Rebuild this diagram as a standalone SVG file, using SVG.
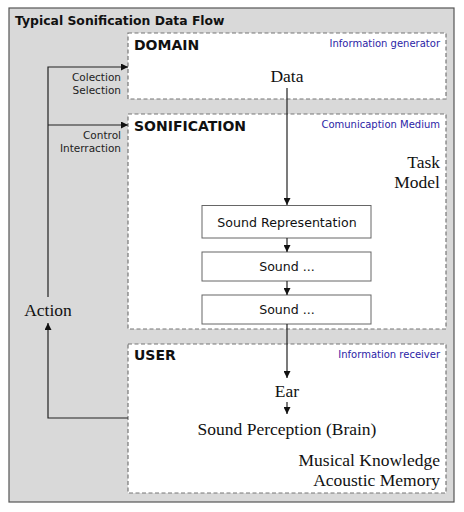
<svg xmlns="http://www.w3.org/2000/svg" width="464" height="512" viewBox="0 0 464 512">
<style>
.sans{font-family:"DejaVu Sans","Liberation Sans",sans-serif}
.serif{font-family:"Liberation Serif","DejaVu Serif",serif;fill:#111;font-size:17.5px}
.zone{fill:#fff;stroke:#777;stroke-width:1.2;stroke-dasharray:4,2.5}
.box{fill:#fff;stroke:#666;stroke-width:1}
.btxt{font-family:"DejaVu Sans","Liberation Sans",sans-serif;font-size:12.6px;fill:#111;text-anchor:middle}
.ztitle{font-family:"DejaVu Sans","Liberation Sans",sans-serif;font-weight:bold;font-size:14px;fill:#111}
.zrole{font-family:"DejaVu Sans","Liberation Sans",sans-serif;font-size:10px;fill:#2b24a6;text-anchor:end}
.lbl{font-family:"DejaVu Sans","Liberation Sans",sans-serif;font-size:10.5px;fill:#222;text-anchor:end}
.con{fill:none;stroke:#222;stroke-width:1.2}
</style>
<defs>
<marker id="ah" viewBox="0 0 10 10" refX="10" refY="5" markerWidth="7" markerHeight="7" orient="auto" markerUnits="userSpaceOnUse">
<path d="M0,0 L10,5 L0,10 Z" fill="#111"/>
</marker>
</defs>
<rect x="9" y="8" width="445" height="494" fill="#d9d9d9" stroke="#555" stroke-width="1.2"/>
<text x="15" y="25" class="sans" font-weight="bold" font-size="12.4" fill="#111">Typical Sonification Data Flow</text>

<g id="domain">
<rect x="128" y="33" width="318" height="66" class="zone"/>
<text x="134" y="50" class="ztitle">DOMAIN</text>
<text x="440" y="47" class="zrole">Information generator</text>
<text x="287" y="82" class="serif" text-anchor="middle">Data</text>
</g>

<g id="sonification">
<rect x="128" y="114" width="318" height="215" class="zone"/>
<text x="134" y="131" class="ztitle">SONIFICATION</text>
<text x="440" y="128" class="zrole">Comunicaption Medium</text>
<text x="440" y="168" class="serif" text-anchor="end">Task</text>
<text x="440" y="188" class="serif" text-anchor="end">Model</text>
</g>

<g id="sound-representation">
<rect x="202" y="205.5" width="169" height="32.5" class="box"/>
<text x="287" y="226.5" class="btxt">Sound Representation</text>
</g>
<g id="sound-1">
<rect x="202" y="252" width="169" height="29" class="box"/>
<text x="287" y="271" class="btxt">Sound ...</text>
</g>
<g id="sound-2">
<rect x="202" y="295" width="169" height="29" class="box"/>
<text x="287" y="314" class="btxt">Sound ...</text>
</g>

<g id="user">
<rect x="128" y="344" width="318" height="149" class="zone"/>
<text x="134" y="360" class="ztitle">USER</text>
<text x="440" y="358" class="zrole">Information receiver</text>
<text x="287" y="397" class="serif" text-anchor="middle">Ear</text>
<text x="287" y="435" class="serif" text-anchor="middle">Sound Perception (Brain)</text>
<text x="440" y="466" class="serif" text-anchor="end">Musical Knowledge</text>
<text x="440" y="486" class="serif" text-anchor="end">Acoustic Memory</text>
</g>

<g id="action">
<text x="48" y="316" class="serif" text-anchor="middle">Action</text>
</g>

<g id="connectors">
<line x1="287" y1="88" x2="287" y2="205" class="con" marker-end="url(#ah)"/>
<line x1="287" y1="238" x2="287" y2="252" class="con" marker-end="url(#ah)"/>
<line x1="287" y1="281" x2="287" y2="295" class="con" marker-end="url(#ah)"/>
<line x1="287" y1="324" x2="287" y2="378" class="con" marker-end="url(#ah)"/>
<line x1="287" y1="402" x2="287" y2="414" class="con" marker-end="url(#ah)"/>
<polyline points="128,418 48,418 48,323" class="con" marker-end="url(#ah)"/>
<polyline points="48,297 48,67 128,67" class="con" marker-end="url(#ah)"/>
<line x1="48" y1="125" x2="128" y2="125" class="con" marker-end="url(#ah)"/>
<text x="121" y="81" class="lbl">Colection</text>
<text x="121" y="94" class="lbl">Selection</text>
<text x="121" y="139" class="lbl">Control</text>
<text x="121" y="152" class="lbl">Interraction</text>
</g>
</svg>
